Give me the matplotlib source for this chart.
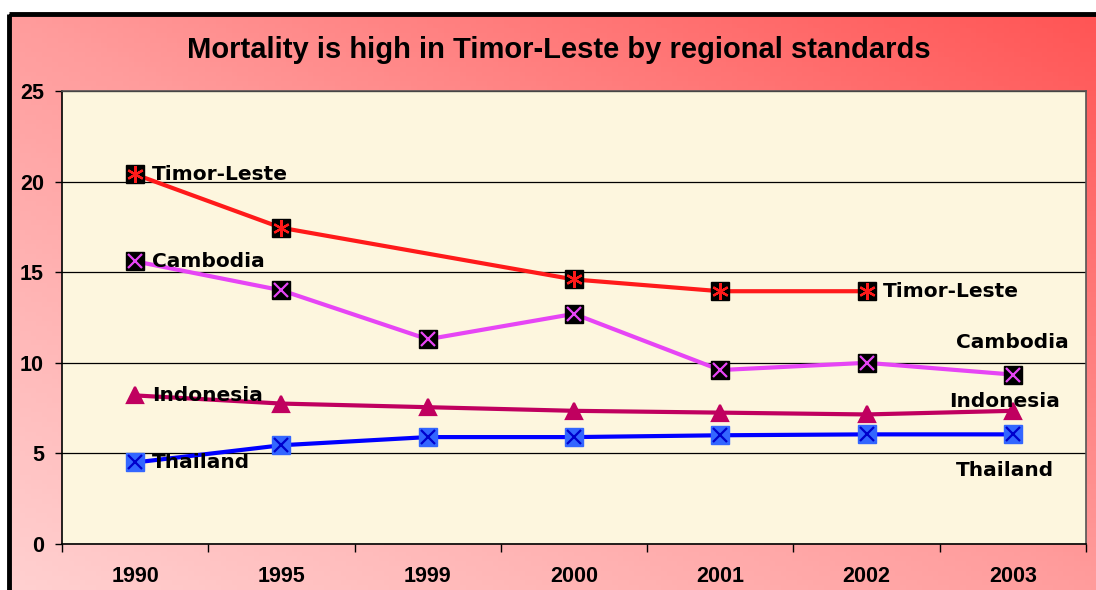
import matplotlib
matplotlib.use("Agg")
import matplotlib.pyplot as plt
import numpy as np
from matplotlib.colors import LinearSegmentedColormap
from matplotlib.patches import Rectangle

# data
years = ["1990", "1995", "1999", "2000", "2001", "2002", "2003"]
timor = [20.4, 17.45, np.nan, 14.6, 13.95, 13.95, np.nan]
cambodia = [15.6, 14.0, 11.3, 12.7, 9.6, 10.0, 9.35]
indonesia = [8.2, 7.75, 7.55, 7.35, 7.25, 7.15, 7.35]
thailand = [4.5, 5.45, 5.9, 5.9, 6.0, 6.05, 6.05]

W, H = 1096, 590
fig = plt.figure(figsize=(W / 100, H / 100), dpi=100)

# gradient background (pink bottom-left -> red top-right)
bg = fig.add_axes([0, 0, 1, 1])
bg.set_xlim(0, W)
bg.set_ylim(H, 0)
bg.axis("off")
gx, gy = np.meshgrid(np.linspace(0, 1, 200), np.linspace(0, 1, 120))
grad = (gx + (1 - gy)) / 2
cmap = LinearSegmentedColormap.from_list("pk", ["#FFD0D0", "#FF9C9C", "#FF5555"])
bg.imshow(grad, cmap=cmap, extent=[9, W, H, 14], origin="upper", aspect="auto")
bg.add_patch(Rectangle((9, 14), W, H, fill=False, edgecolor="black", linewidth=3.5))

fig.text(559 / W, 1 - 50 / H, "Mortality is high in Timor-Leste by regional standards",
         ha="center", va="center", fontsize=21, fontweight="bold", family="Liberation Sans")

ax = fig.add_axes([62 / W, 1 - 544 / H, (1086 - 62) / W, (544 - 91) / H])
ax.set_facecolor("#FDF6DE")
x = np.arange(len(years))
ax.set_xlim(-0.5, len(years) - 0.5)
ax.set_ylim(0, 25)
ax.set_yticks([0, 5, 10, 15, 20, 25])
ax.set_xticks(x)
ax.set_xticklabels(years)
ax.set_xticks(np.arange(-0.5, len(years), 1), minor=True)
ax.tick_params(axis="x", which="major", length=0, pad=16)
ax.tick_params(axis="x", which="minor", length=6, width=1, color="black")
ax.tick_params(axis="y", length=5, width=1, pad=8)
for lab in ax.get_xticklabels() + ax.get_yticklabels():
    lab.set_fontsize(15.5)
    lab.set_fontweight("bold")
    lab.set_family("Liberation Sans")
ax.yaxis.grid(True, color="black", linewidth=0.9)
ax.set_axisbelow(True)
for s in ["left", "bottom"]:
    ax.spines[s].set_color("black")
    ax.spines[s].set_linewidth(1.2)
for s in ["top", "right"]:
    ax.spines[s].set_color("#555555")
    ax.spines[s].set_linewidth(1.2)


def draw(vals, color, face, mk, mcol, msize):
    v = np.array(vals, dtype=float)
    ok = ~np.isnan(v)
    ax.plot(x[ok], v[ok], color=color, linewidth=3, zorder=3)
    if face is not None:
        ax.plot(x[ok], v[ok], linestyle="none", marker="s", markersize=12.5,
                markerfacecolor=face, markeredgecolor=face, zorder=4)
    ax.plot(x[ok], v[ok], linestyle="none", marker=mk, markersize=msize,
            color=mcol, markeredgewidth=1.6, zorder=5)


draw(thailand, "#0000FF", "#3366FF", "x", "#0000CC", 10)
draw(indonesia, "#C0005F", None, "^", "#C0005F", 11)
draw(cambodia, "#E645F5", "black", "x", "#E645F5", 10)
draw(timor, "#FF1A1A", "black", (6, 2, 0), "#FF1A1A", 12)

lab_kw = dict(fontsize=14.5, fontweight="bold", va="center", zorder=6)
# left labels
for vals, name in [(timor, "Timor-Leste"), (cambodia, "Cambodia"),
                   (indonesia, "Indonesia"), (thailand, "Thailand")]:
    ax.annotate(name, (0, vals[0]), xytext=(12, 0), textcoords="offset points",
                ha="left", **lab_kw)
# right labels
ax.annotate("Timor-Leste", (5, timor[5]), xytext=(12, 0), textcoords="offset points",
            ha="left", **lab_kw)
ax.annotate("Cambodia", (6, cambodia[6]), xytext=(0, 23), textcoords="offset points",
            ha="center", **lab_kw)
ax.annotate("Indonesia", (6, indonesia[6]), xytext=(-6, 7), textcoords="offset points",
            ha="center", **lab_kw)
ax.annotate("Thailand", (6, thailand[6]), xytext=(-6, -26), textcoords="offset points",
            ha="center", **lab_kw)

fig.savefig("out.png", dpi=100)
